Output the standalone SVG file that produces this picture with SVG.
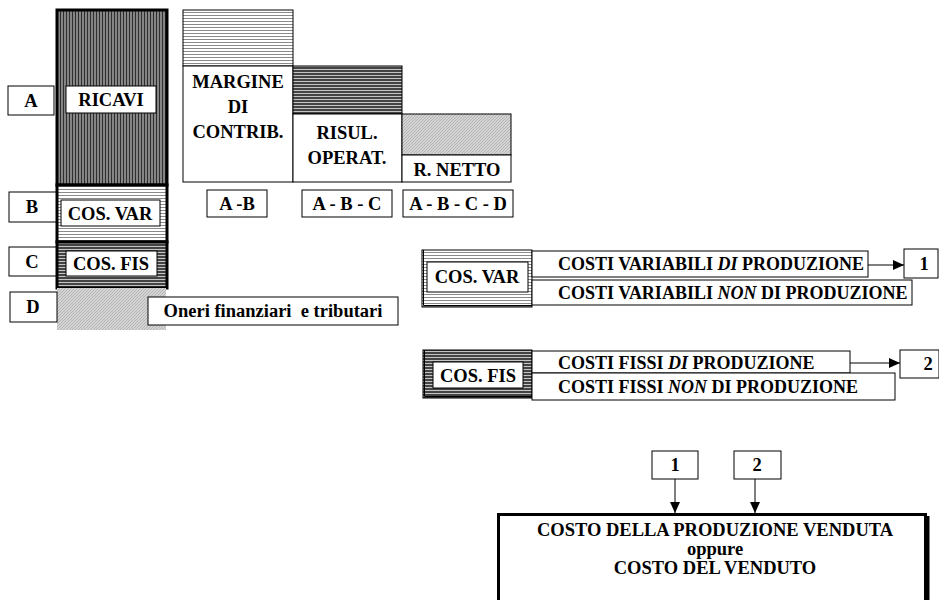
<svg xmlns="http://www.w3.org/2000/svg" width="939" height="600" viewBox="0 0 939 600">
<defs>
<pattern id="pv" patternUnits="userSpaceOnUse" width="3" height="3"><rect width="3" height="3" fill="#858585"/><rect width="1" height="3" fill="#2e2e2e"/></pattern>
<pattern id="phl" patternUnits="userSpaceOnUse" width="3" height="3"><rect width="3" height="3" fill="#fff"/><rect width="3" height="1" fill="#8a8a8a"/></pattern>
<pattern id="phd" patternUnits="userSpaceOnUse" width="3" height="3"><rect width="3" height="3" fill="#444"/><rect width="3" height="1" fill="#c4c4c4"/></pattern>
<pattern id="pg" patternUnits="userSpaceOnUse" width="3" height="3"><rect width="3" height="3" fill="#d4d4d4"/><path d="M0 3L3 0" stroke="#a6a6a6" stroke-width="0.7"/></pattern>
<marker id="ah" markerWidth="11" markerHeight="10" refX="11" refY="5" orient="auto" markerUnits="userSpaceOnUse"><path d="M0 0L11 5L0 10z" fill="#000"/></marker>
</defs>
<style>
text{font-family:"Liberation Serif","Times New Roman",serif;font-weight:bold;font-size:18.5px;fill:#000;text-anchor:middle}
.st{text-anchor:start;font-size:18px}
.bx{fill:#fff;stroke:#000;stroke-width:1}
.thin{stroke:#000;stroke-width:1}
.thick{stroke:#000;stroke-width:3}
.cn{stroke:#000;stroke-width:1;fill:none}
</style>
<rect width="939" height="600" fill="#fff"/>

<g id="ricavi">
<rect x="57" y="10" width="110" height="175" fill="url(#pv)" class="thick"/>
<rect x="66" y="86" width="90" height="27" class="bx"/>
<text x="111" y="106">RICAVI</text>
</g>
<g id="label-a"><rect x="8" y="86" width="46" height="29" class="bx"/><text x="31" y="107">A</text></g>

<g id="cos-var">
<rect x="57" y="185" width="110" height="57" fill="url(#phl)" class="thick"/>
<rect x="61" y="200" width="99" height="26" class="bx"/>
<text x="110" y="220">COS. VAR</text>
</g>
<g id="label-b"><rect x="9" y="192" width="47" height="30" class="bx"/><text x="32" y="213">B</text></g>

<g id="cos-fis">
<rect x="57" y="242" width="110" height="46" fill="url(#phd)" class="thick"/>
<rect x="66" y="251" width="91" height="25" class="bx"/>
<text x="111" y="270">COS. FIS</text>
</g>
<g id="label-c"><rect x="9" y="247" width="47" height="29" class="bx"/><text x="32" y="268">C</text></g>

<g id="oneri">
<rect x="57" y="288" width="109" height="42" fill="url(#pg)"/>
<rect x="148" y="297" width="250" height="28" class="bx"/>
<text x="273" y="317" xml:space="preserve">Oneri finanziari  e tributari</text>
</g>
<g id="label-d"><rect x="10" y="292" width="47" height="30" class="bx"/><text x="33" y="313">D</text></g>

<g id="margine">
<rect x="183" y="10" width="110" height="56" fill="url(#phl)" class="thin"/>
<rect x="183" y="66" width="110" height="116" class="bx"/>
<text x="238" y="88">MARGINE</text>
<text x="238" y="113">DI</text>
<text x="238" y="138">CONTRIB.</text>
</g>
<g id="risul">
<rect x="293" y="66" width="109" height="48" fill="url(#phd)" class="thin"/>
<rect x="293" y="114" width="109" height="68" class="bx"/>
<text x="347" y="139">RISUL.</text>
<text x="347" y="164">OPERAT.</text>
</g>
<g id="netto">
<rect x="402" y="114" width="109" height="41" fill="url(#pg)" class="thin"/>
<rect x="402" y="155" width="109" height="27" class="bx"/>
<text x="457" y="176">R. NETTO</text>
</g>
<g id="label-ab"><rect x="207" y="190" width="60" height="27" class="bx"/><text x="237" y="210">A -B</text></g>
<g id="label-abc"><rect x="302" y="190" width="90" height="27" class="bx"/><text x="347" y="210">A - B - C</text></g>
<g id="label-abcd"><rect x="403" y="190" width="110" height="27" class="bx"/><text x="458" y="210">A - B - C - D</text></g>

<g id="cos-var-2">
<rect x="422" y="250" width="110" height="57" fill="url(#phl)" class="thin"/>
<path d="M423.5 250V305.5H532" class="cn" stroke-width="3"/>
<rect x="427" y="262" width="101" height="30" class="bx"/>
<text x="477" y="283">COS. VAR</text>
</g>
<g id="var-di"><rect x="532" y="251" width="336" height="26" class="bx"/><text x="558" y="270" class="st">COSTI VARIABILI <tspan font-style="italic">DI</tspan> PRODUZIONE</text></g>
<g id="var-non"><rect x="532" y="280" width="380" height="25" class="bx"/><text x="558" y="299" class="st">COSTI VARIABILI <tspan font-style="italic">NON</tspan> DI PRODUZIONE</text></g>
<g id="n1a"><rect x="904" y="249" width="34" height="29" class="bx"/><text x="924" y="270">1</text></g>

<g id="cos-fis-2">
<rect x="423" y="350" width="109" height="48" fill="url(#phd)" class="thin"/>
<path d="M424.5 350V396.5H532" class="cn" stroke-width="3"/>
<rect x="433" y="362" width="90" height="26" class="bx"/>
<text x="478" y="382">COS. FIS</text>
</g>
<g id="fis-di"><rect x="532" y="351" width="318" height="22" class="bx"/><text x="558" y="369" class="st">COSTI FISSI <tspan font-style="italic">DI</tspan> PRODUZIONE</text></g>
<g id="fis-non"><rect x="532" y="373" width="363" height="27" class="bx"/><text x="558" y="393" class="st">COSTI FISSI <tspan font-style="italic">NON</tspan> DI PRODUZIONE</text></g>
<g id="n2a"><rect x="900" y="350" width="39" height="28" class="bx"/><text x="928" y="370">2</text></g>

<g id="n1b"><rect x="652" y="451" width="46" height="28" class="bx"/><text x="675" y="471">1</text></g>
<g id="n2b"><rect x="734" y="451" width="47" height="28" class="bx"/><text x="757" y="471">2</text></g>

<g id="costo-venduto">
<rect x="498.5" y="514.5" width="427" height="100" fill="#fff" stroke="#000" stroke-width="3"/>
<line x1="928" y1="516" x2="928" y2="600" stroke="#000" stroke-width="3"/>
<text x="715" y="536">COSTO DELLA PRODUZIONE VENDUTA</text>
<text x="715" y="555" font-size="17">oppure</text>
<text x="715" y="574">COSTO DEL VENDUTO</text>
</g>

<g id="connectors">
<line x1="868" y1="265" x2="904" y2="265" class="cn" marker-end="url(#ah)"/>
<line x1="850" y1="363" x2="900" y2="363" class="cn" marker-end="url(#ah)"/>
<line x1="675" y1="479" x2="675" y2="513" class="cn" marker-end="url(#ah)"/>
<line x1="755" y1="479" x2="755" y2="513" class="cn" marker-end="url(#ah)"/>
</g>
</svg>
